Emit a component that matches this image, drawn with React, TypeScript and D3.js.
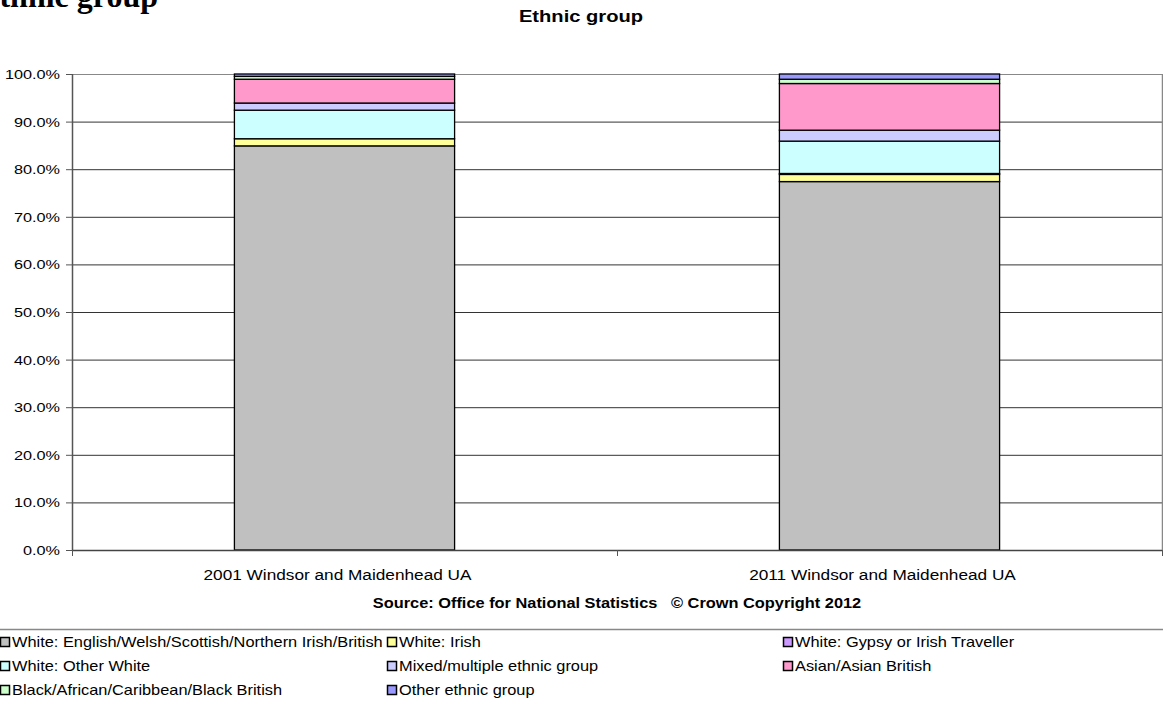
import React from "react";
import * as d3 from "d3";

const categories = ["2001 Windsor and Maidenhead UA", "2011 Windsor and Maidenhead UA"];
const seriesNames = [
  "White: English/Welsh/Scottish/Northern Irish/British",
  "White: Irish",
  "White: Gypsy or Irish Traveller",
  "White: Other White",
  "Mixed/multiple ethnic group",
  "Asian/Asian British",
  "Black/African/Caribbean/Black British",
  "Other ethnic group",
];
const seriesColors = ["#C0C0C0", "#FFFF99", "#CC99FF", "#CCFFFF", "#CCCCFF", "#FF99CC", "#CCFFCC", "#9999FF"];
const values2001 = [84.9, 1.5, 0.0, 6.0, 1.5, 5.0, 0.6, 0.5];
const values2011 = [77.4, 1.5, 0.2, 6.8, 2.3, 9.8, 0.9, 1.1];
const yTicks = [0, 10, 20, 30, 40, 50, 60, 70, 80, 90, 100];
const legendOrder = [
  [0, 1, 2],
  [3, 4, 5],
  [6, 7],
];

const W = 1163;
const H = 702;
const plotL = 72;
const plotR = 1162;
const plotT = 74;
const plotB = 550;
const FONT = "Arial, 'Liberation Sans', sans-serif";

type STProps = {
  x: number;
  y: number;
  sx: number;
  size: number;
  anchor?: "start" | "middle" | "end";
  bold?: boolean;
  children: React.ReactNode;
};
function SText({ x, y, sx, size, anchor = "start", bold = false, children }: STProps) {
  return (
    <text
      transform={`translate(${x},${y}) scale(${sx},1)`}
      textAnchor={anchor}
      fontFamily={FONT}
      fontWeight={bold ? "bold" : "normal"}
      fontSize={size}
      fill="#000"
      style={{ whiteSpace: "pre" }}
    >
      {children}
    </text>
  );
}

export default function App() {
  const x = d3.scaleBand<string>().domain(categories).range([plotL, plotR]).paddingInner(0.596).paddingOuter(0.298);
  const y = d3.scaleLinear().domain([0, 100]).range([plotB, plotT]);
  const table = [values2001, values2011];
  const stacks = table.map((vals) => {
    let acc = 0;
    return vals.map((v) => {
      const s = { y0: acc, y1: acc + v };
      acc += v;
      return s;
    });
  });
  const step = x.step();
  const legendCols = [1, 388, 784];
  const legendRows = [642, 666, 690];

  return (
    <svg width={W} height={H} style={{ position: "absolute", left: 0, top: 0, background: "#fff" }}>
      <rect x={0} y={0} width={W} height={H} fill="#fff" />
      <text x={158} y={7} textAnchor="end" fontFamily="'Liberation Serif', 'Times New Roman', serif" fontWeight="bold" fontSize={32} fill="#000">
        Ethnic group
      </text>
      <SText x={581} y={22} sx={1.26} size={16} anchor="middle" bold>
        Ethnic group
      </SText>
      {/* gridlines */}
      {yTicks.map((t) => (
        <line key={t} x1={plotL} x2={plotR} y1={y(t) + 0.5} y2={y(t) + 0.5} stroke={t === 100 ? "#888" : "#333"} strokeWidth={1} />
      ))}
      <line x1={plotR + 0.5} x2={plotR + 0.5} y1={plotT} y2={plotB} stroke="#888" strokeWidth={1.5} />
      {/* bars */}
      {categories.map((c, ci) =>
        stacks[ci].map((s, si) => (
          <rect
            key={c + si}
            x={x(c)!}
            y={y(s.y1)}
            width={x.bandwidth()}
            height={Math.max(0, y(s.y0) - y(s.y1))}
            fill={seriesColors[si]}
            stroke="#000"
            strokeWidth={1.3}
          />
        ))
      )}
      {/* y axis */}
      <line x1={plotL + 0.5} x2={plotL + 0.5} y1={plotT} y2={plotB + 1} stroke="#555" strokeWidth={1.5} />
      {yTicks.map((t) => (
        <g key={"t" + t}>
          <line x1={plotL - 6} x2={plotL} y1={y(t) + 0.5} y2={y(t) + 0.5} stroke="#555" />
          <SText x={plotL - 12} y={y(t) + 5} sx={1.25} size={13} anchor="end">
            {t.toFixed(1) + "%"}
          </SText>
        </g>
      ))}
      {/* x axis */}
      <line x1={plotL} x2={plotR} y1={plotB + 0.5} y2={plotB + 0.5} stroke="#444" strokeWidth={1.5} />
      {[0, 1, 2].map((i) => (
        <line key={"xt" + i} x1={plotL + i * step + 0.5} x2={plotL + i * step + 0.5} y1={plotB} y2={plotB + 6} stroke="#555" />
      ))}
      {categories.map((c) => (
        <SText key={"xl" + c} x={x(c)! + x.bandwidth() / 2 - 7} y={580} sx={1.23} size={14} anchor="middle">
          {c}
        </SText>
      ))}
      <SText x={617} y={608} sx={1.17} size={14} anchor="middle" bold>
        {"Source: Office for National Statistics   \u00A9 Crown Copyright 2012"}
      </SText>
      {/* legend */}
      <line x1={0} x2={W} y1={629.5} y2={629.5} stroke="#888" strokeWidth={1.5} />
      {legendOrder.map((row, ri) =>
        row.map((si, ci) => (
          <g key={"lg" + si}>
            <rect x={legendCols[ci] - 0.5} y={legendRows[ri] - 4.5} width={9} height={9} fill={seriesColors[si]} stroke="#000" strokeWidth={1.5} />
            <SText x={legendCols[ci] + 11} y={legendRows[ri] + 5} sx={1.17} size={14}>
              {seriesNames[si]}
            </SText>
          </g>
        ))
      )}
    </svg>
  );
}
